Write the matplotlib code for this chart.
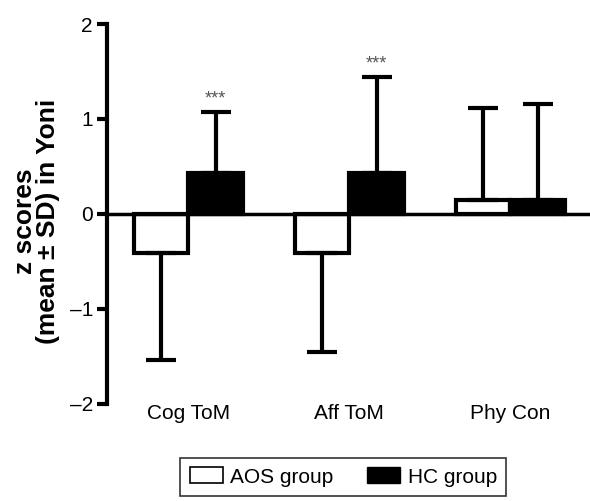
import matplotlib.pyplot as plt
from matplotlib.patches import Patch
import numpy as np

plt.rcParams['font.family'] = ['Liberation Sans', 'DejaVu Sans']

categories = ["Cog ToM", "Aff ToM", "Phy Con"]
aos_mean = [-0.41, -0.41, 0.15]
aos_sd = [1.13, 1.04, 0.97]
hc_mean = [0.43, 0.43, 0.15]
hc_sd = [0.64, 1.01, 1.01]
stars = ["***", "***", ""]

x = np.arange(len(categories))
w = 0.34

fig = plt.figure(figsize=(5.9, 5.01), dpi=100)
ax = fig.add_axes([0.181, 0.194, 0.819, 0.758])

# one-sided error bars: pointing away from zero
aos_err = [[s if m < 0 else 0 for m, s in zip(aos_mean, aos_sd)],
           [s if m >= 0 else 0 for m, s in zip(aos_mean, aos_sd)]]
hc_err = [[s if m < 0 else 0 for m, s in zip(hc_mean, hc_sd)],
          [s if m >= 0 else 0 for m, s in zip(hc_mean, hc_sd)]]

ekw = dict(elinewidth=3, capthick=3)
ax.bar(x - w / 2, aos_mean, w, color="white", edgecolor="black", linewidth=3,
       yerr=aos_err, capsize=10.5, error_kw=ekw, label="AOS group", zorder=2)
ax.bar(x + w / 2, hc_mean, w, color="black", edgecolor="black", linewidth=3,
       yerr=hc_err, capsize=10.5, error_kw=ekw, label="HC group", zorder=2)

ax.axhline(0, color="black", lw=2.5, zorder=3)

for i, s in enumerate(stars):
    if s:
        ax.text(x[i] + w / 2, hc_mean[i] + hc_sd[i] + 0.05, s, ha="center",
                va="bottom", fontsize=13, color="#555555")

ax.set_xlim(-0.506, 2.494)
ax.set_ylim(-2, 2)
ax.set_yticks([-2, -1, 0, 1, 2])
ax.set_yticklabels(["\u20132", "\u20131", "0", "1", "2"], fontsize=15)
ax.tick_params(axis="y", width=3, length=7, pad=3)
ax.set_xticks(x)
ax.set_xticklabels(categories, fontsize=15)
ax.tick_params(axis="x", length=0, pad=0)

for side in ["top", "right", "bottom"]:
    ax.spines[side].set_visible(False)
ax.spines["left"].set_linewidth(3)

ax.set_ylabel("z scores\n(mean \u00b1 SD) in Yoni", fontsize=19, fontweight="bold",
              linespacing=0.95)
ax.yaxis.set_label_coords(-0.097, 0.48)

handles = [Patch(facecolor="white", edgecolor="black", lw=1.2, label="AOS group"),
           Patch(facecolor="black", edgecolor="black", label="HC group")]
leg = fig.legend(handles=handles, loc="center", bbox_to_anchor=(0.582, 0.048), ncol=2,
                 fontsize=15, frameon=True, fancybox=False, edgecolor="black",
                 handlelength=1.6, handleheight=0.8, columnspacing=1.6,
                 handletextpad=0.35, borderpad=0.45, borderaxespad=0)
leg.get_frame().set_linewidth(1.2)

fig.savefig("out.png", dpi=100)
